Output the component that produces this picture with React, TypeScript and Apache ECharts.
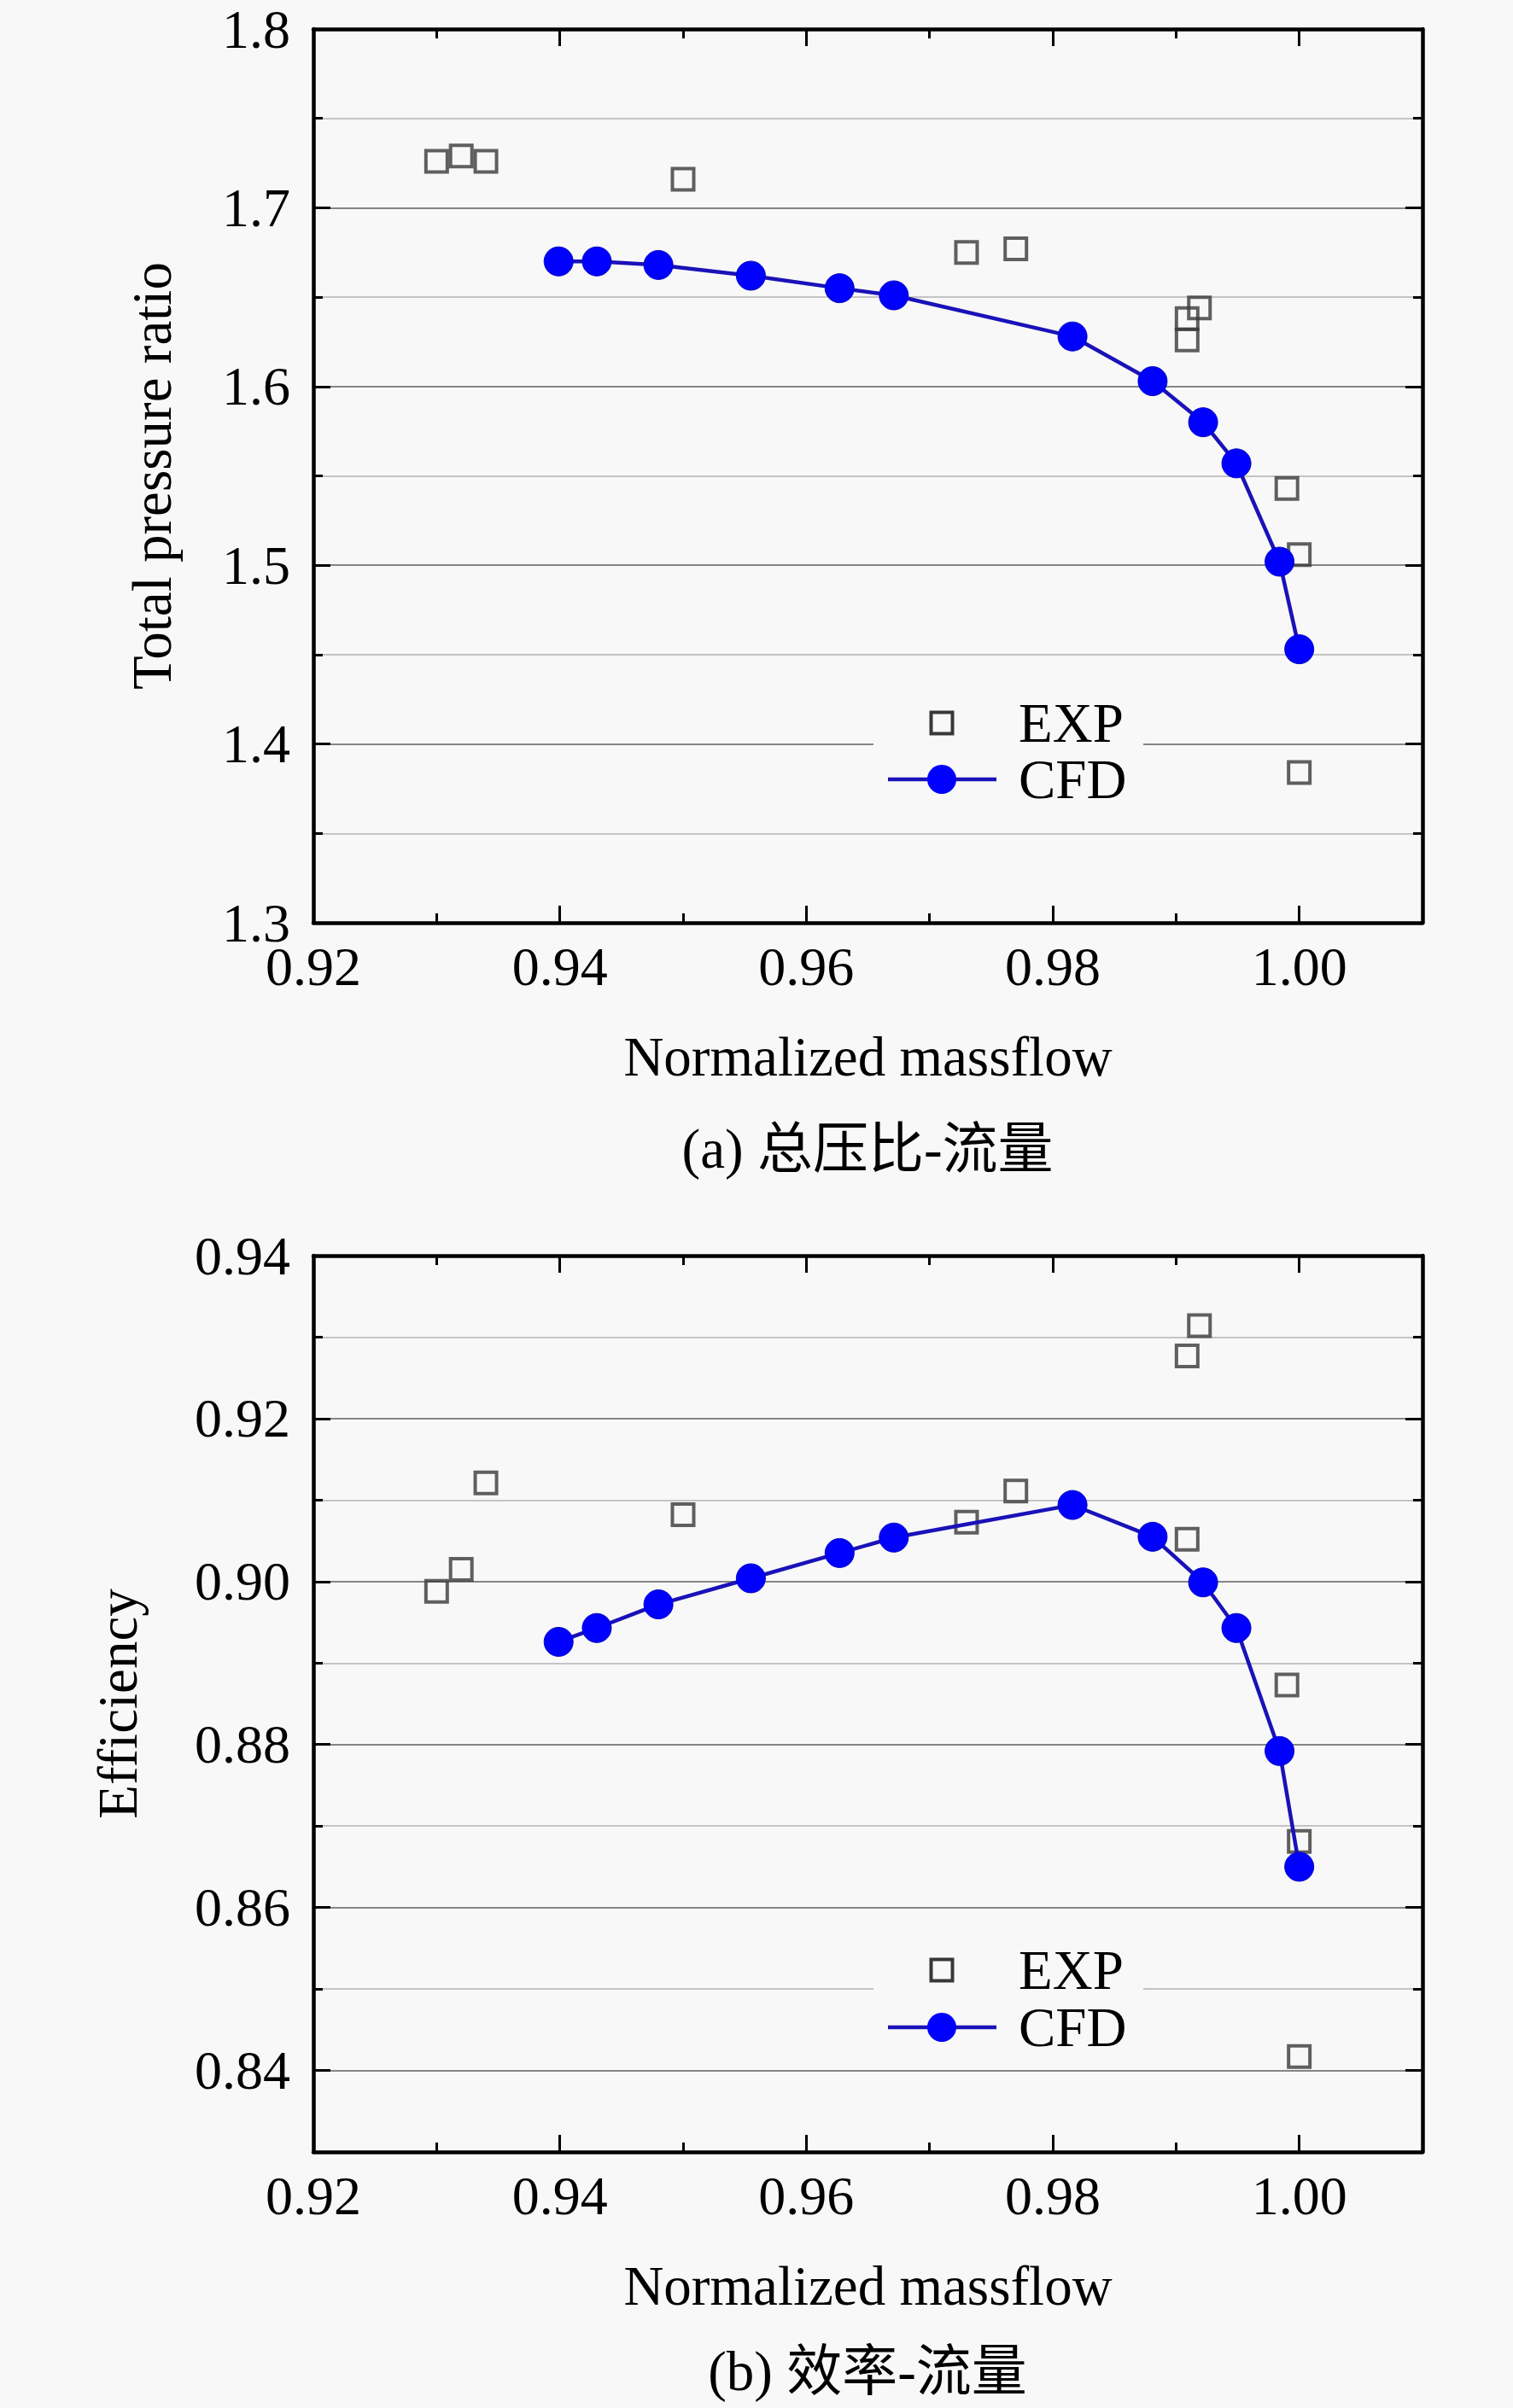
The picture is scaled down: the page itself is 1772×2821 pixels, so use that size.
import React, { useEffect, useRef } from "react";
import * as echarts from "echarts";

// CFD curve (normalized massflow, total pressure ratio, efficiency)
const massflowCfd = [0.9399, 0.943, 0.948, 0.9555, 0.9627, 0.9671, 0.9816, 0.9881, 0.9922, 0.9949, 0.9984, 1.0];
const pressureCfd = [1.67, 1.67, 1.668, 1.662, 1.655, 1.651, 1.628, 1.603, 1.58, 1.557, 1.502, 1.453];
const efficiencyCfd = [0.8926, 0.8943, 0.8972, 0.9004, 0.9035, 0.9054, 0.9094, 0.9055, 0.8999, 0.8943, 0.8792, 0.865];

// experiment points
const massflowExp = [0.93, 0.932, 0.934, 0.95, 0.973, 0.977, 0.9909, 0.9909, 0.9919, 0.999, 1.0, 1.0];
const pressureExp = [1.726, 1.729, 1.726, 1.716, 1.675, 1.677, 1.638, 1.626, 1.644, 1.543, 1.506, 1.384];
const efficiencyExp = [0.8988, 0.9015, 0.9121, 0.9082, 0.9073, 0.9111, 0.9277, 0.9052, 0.9314, 0.8873, 0.8681, 0.8417];

// axis ticks
const massflowTicks = [0.92, 0.94, 0.96, 0.98, 1.0];
const pressureTicks = [1.3, 1.4, 1.5, 1.6, 1.7, 1.8];
const efficiencyTicks = [0.84, 0.86, 0.88, 0.9, 0.92, 0.94];

const seriesNames = ["EXP", "CFD"];
const xName = "Normalized massflow";
const yNames = ["Total pressure ratio", "Efficiency"];
const captions = ["(a) 总压比-流量", "(b) 效率-流量"];

const BG = "#f8f8f8";
const FONT = "'Liberation Serif', 'Times New Roman', 'Noto Sans CJK SC', serif";
const LINE_BLUE = "#1a12b8";
const DOT_BLUE = "#0000ff";
const SQ_GREY = "#383838";

const zip = (xs: number[], ys: number[]) => xs.map((x, i) => [x, ys[i]]);

const App: React.FC = () => {
  const chartRef = useRef<HTMLDivElement>(null);

  useEffect(() => {
    document.body.style.margin = "0";
    if (!chartRef.current) return;
    const chart = echarts.init(chartRef.current, undefined, { renderer: "svg" });

    const grids = [
      { left: 367, right: 106, top: 34, height: 1047 },
      { left: 367, right: 106, top: 1471, height: 1050 },
    ];

    const xAxes: any[] = [];
    const yAxes: any[] = [];

    const xSet = (gi: number) => {
      const common = { type: "value", gridIndex: gi, min: 0.92, max: 1.01, splitLine: { show: false } };
      const line = { show: true, onZero: false, lineStyle: { color: "#000", width: 4.5 } };
      const tickStyle = { color: "#000", width: 3 };
      for (const position of ["bottom", "top"]) {
        xAxes.push({
          ...common,
          position,
          axisLine: line,
          axisTick: { show: true, inside: true, length: 20, customValues: massflowTicks, lineStyle: tickStyle },
          axisLabel:
            position === "bottom"
              ? {
                  show: true,
                  customValues: massflowTicks,
                  formatter: (v: number) => v.toFixed(2),
                  fontSize: 64,
                  fontFamily: FONT,
                  color: "#000",
                  margin: 19,
                }
              : { show: false },
          name: position === "bottom" ? xName : "",
          nameLocation: "middle",
          nameGap: 124,
          nameTextStyle: { fontSize: 65, fontFamily: FONT, color: "#000" },
        });
        xAxes.push({
          ...common,
          position,
          interval: 0.01,
          axisLine: { show: false, onZero: false },
          axisTick: { show: true, inside: true, length: 11, lineStyle: tickStyle },
          axisLabel: { show: false },
        });
      }
    };

    const ySet = (gi: number, ticks: number[], min: number, max: number, minorStep: number, digits: number, name: string, nameGap: number, colors: string[]) => {
      const common = { type: "value", gridIndex: gi, min, max };
      const tickStyle = { color: "#000", width: 3 };
      for (const position of ["left", "right"]) {
        yAxes.push({
          ...common,
          position,
          axisLine: { show: true, onZero: false, lineStyle: { color: "#000", width: 4.5 } },
          axisTick: { show: true, inside: true, length: 20, customValues: ticks, lineStyle: tickStyle },
          axisLabel:
            position === "left"
              ? {
                  show: true,
                  customValues: ticks,
                  formatter: (v: number) => v.toFixed(digits),
                  fontSize: 64,
                  fontFamily: FONT,
                  color: "#000",
                  margin: 27,
                }
              : { show: false },
          splitLine: { show: false },
          name: position === "left" ? name : "",
          nameLocation: "middle",
          nameGap,
          nameTextStyle: { fontSize: 65, fontFamily: FONT, color: "#000" },
        });
        yAxes.push({
          ...common,
          position,
          interval: minorStep,
          axisLine: { show: false, onZero: false },
          axisTick: { show: true, inside: true, length: 11, lineStyle: tickStyle },
          axisLabel: { show: false },
          splitLine:
            position === "left"
              ? { show: true, lineStyle: { color: colors, width: 2 } }
              : { show: false },
        });
      }
    };

    xSet(0);
    xSet(1);
    ySet(0, pressureTicks, 1.3, 1.8, 0.05, 1, yNames[0], 157, ["#858585", "#c4c4c4"]);
    ySet(1, efficiencyTicks, 0.83, 0.94, 0.01, 2, yNames[1], 197, ["#c4c4c4", "#858585"]);

    const expSeries = (xi: number, yi: number, ys: number[]) => ({
      type: "scatter",
      name: seriesNames[0],
      xAxisIndex: xi,
      yAxisIndex: yi,
      data: zip(massflowExp, ys),
      symbol: "rect",
      symbolSize: 25,
      itemStyle: { color: "transparent", borderColor: SQ_GREY, borderWidth: 4 },
      z: 3,
    });
    const cfdSeries = (xi: number, yi: number, ys: number[]) => ({
      type: "line",
      name: seriesNames[1],
      xAxisIndex: xi,
      yAxisIndex: yi,
      data: zip(massflowCfd, ys),
      symbol: "circle",
      symbolSize: 34,
      showAllSymbol: true,
      lineStyle: { color: LINE_BLUE, width: 4.5 },
      itemStyle: { color: DOT_BLUE, borderColor: "#0606c0", borderWidth: 1 },
      z: 4,
    });

    // legend blocks, drawn inside each plot
    const legendBlock = (expY: number, cfdY: number) => {
      const mid = (expY + cfdY) / 2;
      const label = (text: string, y: number) => ({
        type: "text",
        x: 1193,
        y,
        z: 101,
        style: {
          text,
          fill: "#000",
          fontSize: 65,
          fontFamily: FONT,
          textAlign: "left",
          textVerticalAlign: "middle",
          align: "left",
          verticalAlign: "middle",
        },
      });
      return [
        { type: "rect", z: 100, shape: { x: 1023, y: mid - 72, width: 316, height: 144 }, style: { fill: BG } },
        {
          type: "rect",
          z: 101,
          shape: { x: 1103 - 12.5, y: expY - 12.5, width: 25, height: 25 },
          style: { fill: "none", stroke: SQ_GREY, lineWidth: 4 },
        },
        label(seriesNames[0], expY),
        { type: "line", z: 101, shape: { x1: 1040, y1: cfdY, x2: 1167, y2: cfdY }, style: { stroke: LINE_BLUE, lineWidth: 4.5 } },
        { type: "circle", z: 102, shape: { cx: 1103, cy: cfdY, r: 17 }, style: { fill: DOT_BLUE } },
        label(seriesNames[1], cfdY),
      ];
    };

    const caption = (text: string, y: number) => ({
      type: "text",
      x: 1016,
      y,
      style: {
        text,
        fill: "#000",
        fontSize: 65,
        fontFamily: FONT,
        textAlign: "center",
        textVerticalAlign: "middle",
        align: "center",
        verticalAlign: "middle",
      },
    });

    const option: echarts.EChartsCoreOption = {
      animation: false,
      backgroundColor: BG,
      grid: grids,
      xAxis: xAxes,
      yAxis: yAxes,
      series: [
        expSeries(0, 0, pressureExp),
        cfdSeries(0, 0, pressureCfd),
        expSeries(4, 4, efficiencyExp),
        cfdSeries(4, 4, efficiencyCfd),
      ],
      graphic: [
        ...legendBlock(847, 913),
        ...legendBlock(2308, 2375),
        caption(captions[0], 1346),
        caption(captions[1], 2778),
      ],
    };

    chart.setOption(option);
    return () => {
      chart.dispose();
    };
  }, []);

  return <div ref={chartRef} style={{ width: "1772px", height: "2821px", background: BG }} />;
};

export default App;
